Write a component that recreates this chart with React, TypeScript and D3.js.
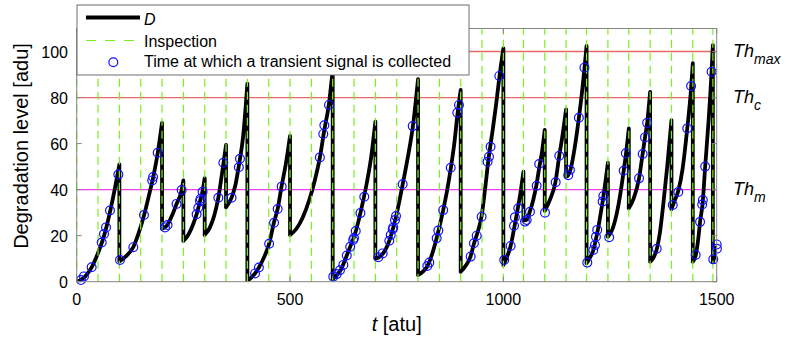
import React from 'react';
import * as d3 from 'd3';

const W = 790;
const H = 341;
const FONT = "'Liberation Sans', Arial, Helvetica, sans-serif";

// ---- data ----
const xTicks = [0, 500, 1000, 1500];
const yTicks = [0, 20, 40, 60, 80, 100];

const thresholdLabels = ['max', 'c', 'm'];
const thresholdValues = [100, 80, 40];

const inspectionTimes = [
  0, 50, 100, 150, 200, 250, 300, 350, 400, 450, 500, 550, 600, 650, 700, 750, 800, 850, 900, 950, 1000,
  1047, 1097, 1147, 1195, 1245, 1294, 1344, 1394, 1444, 1491,
];

// Degradation path D: one list of [t, D] knots per inter-maintenance segment
const dSegments: [number, number][][] = [
  [[0, 0], [10, 0.8], [20, 2.3], [35, 6.2], [50, 12.5], [60, 17.5], [70, 24], [80, 32], [90, 41], [100, 51]],
  [[100, 8.8], [115, 11], [133, 15.2], [145, 21], [158, 29], [170, 38], [180, 46], [190, 56], [200, 69]],
  [[200, 23], [212, 24.5], [224, 29], [234, 33.8], [246, 39.8], [250, 44]],
  [[250, 17.7], [262, 20.5], [272, 24.5], [281, 29.3], [289, 35], [295, 39.3], [300, 45]],
  [[300, 20.3], [312, 23.5], [322, 28.5], [332, 36.5], [344, 51.5], [350, 59.4]],
  [[350, 32.3], [363, 36.5], [372, 42], [381, 51.5], [390, 63], [400, 86]],
  [[400, 0.3], [418, 3.6], [427, 6.2], [440, 11], [451, 16.5], [462, 25.5], [471, 31.6], [480, 41.3], [490, 51], [500, 63.3]],
  [[500, 20.3], [515, 23], [530, 28], [545, 35.5], [558, 44], [570, 54], [580, 65.5], [591, 77], [600, 92]],
  [[600, 1], [610, 3], [620, 5.5], [630, 10], [641, 15.2], [650, 19.5], [660, 26], [670, 34], [680, 43], [690, 54], [700, 69.5]],
  [[700, 10], [708, 10.6], [718, 12.3], [733, 18], [742, 23.5], [750, 29.5], [764, 42.3], [776, 54], [788, 67.6], [800, 88]],
  [[800, 2.9], [812, 4.5], [822, 6.8], [833, 12], [845, 20], [859, 31.1], [868, 39.5], [877, 49.5], [885, 60], [892, 72], [900, 83.3]],
  [[900, 4.3], [912, 7], [923, 10.9], [931, 16.5], [938, 20.5], [949, 28.5], [957, 40], [965, 53], [975, 66], [983, 77], [991, 89.4], [1000, 101.4]],
  [[1000, 7.3], [1008, 10.5], [1017, 15.5], [1025, 23], [1033, 31], [1040, 38.5], [1047, 47.8]],
  [[1047, 26.5], [1055, 27], [1062, 30.4], [1070, 35.5], [1078, 42.5], [1084, 49.5], [1091, 57], [1097, 65.9]],
  [[1097, 30.8], [1110, 36], [1122, 43.2], [1131, 54.7], [1139, 64], [1147, 74.9]],
  [[1147, 45.6], [1152, 46.3], [1157, 48.5], [1167, 58], [1177, 71.2], [1185, 83.5], [1190, 92.5], [1195, 102.4]],
  [[1195, 8], [1203, 10.5], [1211, 13.8], [1217, 18.5], [1222, 23], [1228, 29.5], [1234, 36.5], [1240, 44.5], [1245, 51.7]],
  [[1245, 19.5], [1255, 22.5], [1265, 29], [1274, 38], [1282, 48.2], [1288, 56.5], [1294, 66.6]],
  [[1294, 31.9], [1305, 36], [1318, 44.9], [1326, 55], [1332, 62.7], [1337, 69], [1344, 82.5]],
  [[1344, 8.7], [1352, 10.5], [1360, 14.5], [1367, 21.5], [1375, 34], [1384, 50], [1394, 70.2]],
  [[1394, 31.5], [1400, 34.5], [1410, 39.5], [1420, 49], [1431, 66.6], [1440, 84], [1444, 94.9]],
  [[1444, 8.7], [1451, 11.6], [1457, 19], [1461, 26], [1467, 34], [1473, 50], [1481, 70], [1488, 91.2], [1491, 102.8]],
  [[1491, 8.5], [1496, 11.5], [1500, 15]],
];

// Times at which a transient signal is collected: [t, D]
const transientSignals: [number, number][] = [
  [10, 0.7], [17, 2.3], [35, 6.3], [58.6, 17], [64, 20.7], [68.7, 23.6], [78, 30.9], [97.6, 46.6],
  [101.5, 9.4], [132.7, 15], [157.7, 29], [177, 44], [179, 45.5], [189.8, 56],
  [207, 23.6], [213, 24.6], [234, 33.8], [246, 39.8],
  [281, 29.3], [285, 32.1], [289, 35], [290.5, 36], [295, 39.1],
  [332, 36.5], [343.7, 51.7],
  [363, 36.5], [380, 49.7], [382.7, 53.4],
  [418, 3.6], [427, 6.2], [451, 16.5], [462.5, 25.6], [471, 31.6], [480.4, 41.3],
  [570, 54], [578, 64.2], [580.4, 68], [591.3, 76.8],
  [601.4, 2.2], [609.4, 3.3], [617, 5], [625, 7.3], [633, 11.4], [641, 15.2], [648, 18.1], [650, 19], [654, 22], [665, 29.8], [674, 36.9],
  [707, 10.6], [717, 12.3], [732.7, 17.8], [736, 20.3], [740.6, 22.8], [742, 23.6], [746, 26.8], [748.4, 28.5], [764, 42.3], [787.5, 67.6],
  [821.8, 6.8], [826.4, 8.3], [843.7, 18.9], [847.5, 22.2], [859, 31.1], [876.6, 49.5], [892, 73.4], [896, 76.8],
  [923.4, 10.9], [931, 16.7], [937.5, 20], [949, 28.2], [963, 52.1], [966.3, 54.3], [970, 58.6], [990.5, 89.4],
  [1002, 9.4], [1017, 15.5], [1025, 24.3], [1027, 28], [1035, 31.9],
  [1050.7, 26.1], [1054.6, 26.8], [1062.4, 30.4], [1078, 41.7], [1084, 51.1],
  [1097.6, 30], [1122.6, 43.2], [1131, 54.7],
  [1152, 46.3], [1156, 48.5], [1177, 71.2], [1190, 93],
  [1196.7, 8.3], [1210.8, 13.8], [1214.7, 15.9], [1217, 19.5], [1220, 22.5], [1232.7, 34.8], [1234.3, 37.2],
  [1248, 19.3], [1282, 48.2], [1287, 55.8],
  [1318, 44.9], [1326.5, 55.5], [1332, 62.7], [1337, 69],
  [1359.4, 14.3],
  [1397, 33.3], [1410, 39], [1431, 66.6], [1440, 85],
  [1450.7, 11.6], [1461, 26], [1466, 33.5], [1467.5, 35.5], [1473, 50], [1488, 91.2],
  [1492, 9.7], [1500, 16.2], [1500.5, 14.3],
];

export default function App() {
  const left = 76.7, right = 716.7, top = 28.5, bottom = 281.7;
  const x = d3.scaleLinear().domain([0, 1500]).range([left, right]);
  const y = d3.scaleLinear().domain([0, 110]).range([bottom, top]);

  const line = d3
    .line<[number, number]>()
    .x((d) => x(d[0]))
    .y((d) => y(d[1]))
    .curve(d3.curveMonotoneX);

  let dPath = '';
  dSegments.forEach((seg, i) => {
    dPath += line(seg) || '';
    const next = dSegments[i + 1];
    if (next) {
      const last = seg[seg.length - 1];
      dPath += `L${x(last[0])},${y(next[0][1])}`;
    }
  });

  const axisColor = '#858585';
  const redColor = '#e66a66';
  const magColor = '#ee3cee';
  const greenColor = '#78f020';
  const tick = 5;

  return (
    <svg
      width={W}
      height={H}
      style={{ position: 'absolute', left: 0, top: 0, background: '#fff' }}
      fontFamily={FONT}
    >
      <defs>
        <clipPath id="plotClip">
          <rect x={left} y={top} width={right - left} height={bottom - top} />
        </clipPath>
      </defs>

      {/* thresholds */}
      {thresholdValues.map((v, i) => (
        <line
          key={'th' + i}
          x1={left}
          x2={right}
          y1={y(v)}
          y2={y(v)}
          stroke={i === 2 ? magColor : redColor}
          strokeWidth={1.3}
        />
      ))}

      {/* degradation path */}
      <path
        d={dPath}
        fill="none"
        stroke="#000"
        strokeWidth={3.8}
        strokeLinejoin="round"
        strokeLinecap="round"
        clipPath="url(#plotClip)"
      />

      {/* inspections */}
      {inspectionTimes.map((t, i) => (
        <line
          key={'in' + i}
          x1={x(t)}
          x2={x(t)}
          y1={bottom}
          y2={top}
          stroke={greenColor}
          strokeWidth={1.2}
          strokeDasharray="8,5"
        />
      ))}

      {/* transient signals */}
      {transientSignals.map((d, i) => (
        <circle
          key={'c' + i}
          cx={x(d[0])}
          cy={y(d[1])}
          r={4.4}
          fill="none"
          stroke="#1010ff"
          strokeWidth={1.2}
        />
      ))}

      {/* frame */}
      <rect x={left} y={top} width={right - left} height={bottom - top} fill="none" stroke={axisColor} strokeWidth={1} />
      {yTicks.map((v) => (
        <g key={'yt' + v}>
          <line x1={left} x2={left + tick} y1={y(v)} y2={y(v)} stroke={axisColor} />
          <line x1={right} x2={right - tick} y1={y(v)} y2={y(v)} stroke={axisColor} />
          <text x={68} y={y(v) + 6.5} fontSize={16} textAnchor="end" fill="#000">
            {v}
          </text>
        </g>
      ))}
      {xTicks.map((v) => (
        <g key={'xt' + v}>
          <line x1={x(v)} x2={x(v)} y1={bottom} y2={bottom - tick} stroke={axisColor} />
          <line x1={x(v)} x2={x(v)} y1={top} y2={top + tick} stroke={axisColor} />
          <text x={x(v)} y={305} fontSize={16} textAnchor="middle" fill="#000">
            {v}
          </text>
        </g>
      ))}

      {/* axis labels */}
      <text x={(left + right) / 2} y={331} fontSize={20} textAnchor="middle" fill="#000">
        <tspan fontStyle="italic">t</tspan>
        <tspan> [atu]</tspan>
      </text>
      <text transform={`translate(28,146) rotate(-90)`} fontSize={20} textAnchor="middle" fill="#000">
        Degradation level [adu]
      </text>

      {/* threshold labels */}
      {thresholdValues.map((v, i) => (
        <text key={'tl' + i} x={733} y={y(v) + 5} fontSize={18} fontStyle="italic" fill="#000">
          Th
          <tspan fontSize={14} dy={7.5}>
            {thresholdLabels[i]}
          </tspan>
        </text>
      ))}

      {/* legend */}
      <rect x={77} y={5} width={392} height={70} fill="#fff" stroke="#6f6f6f" strokeWidth={1} />
      <line x1={86} x2={140} y1={17.5} y2={17.5} stroke="#000" strokeWidth={3.8} />
      <text x={144} y={25} fontSize={16} fontStyle="italic" fill="#000">
        D
      </text>
      <line x1={86} x2={140} y1={40.5} y2={40.5} stroke={greenColor} strokeWidth={1.2} strokeDasharray="10,9" />
      <text x={144} y={46.5} fontSize={16} fill="#000">
        Inspection
      </text>
      <circle cx={113.3} cy={62.3} r={4.4} fill="none" stroke="#1010ff" strokeWidth={1.2} />
      <text x={144} y={67} fontSize={16} fill="#000">
        Time at which a transient signal is collected
      </text>
    </svg>
  );
}
